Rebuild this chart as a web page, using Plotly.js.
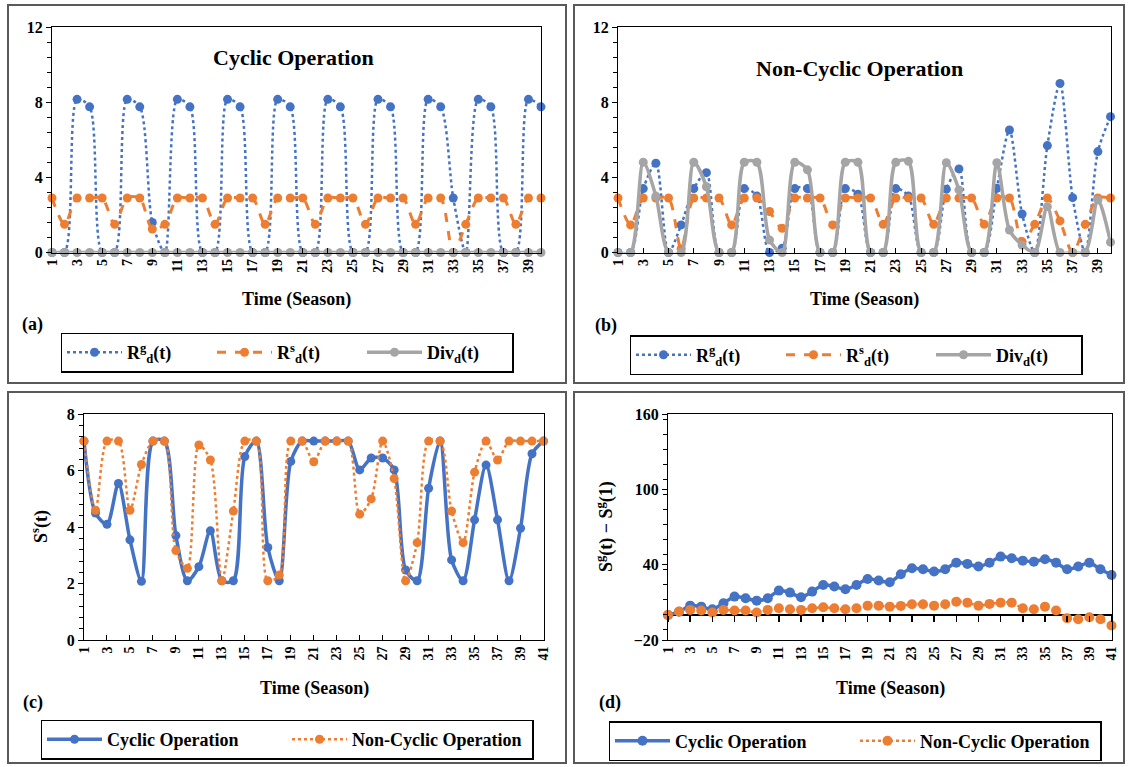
<!DOCTYPE html>
<html><head><meta charset="utf-8">
<script src="https://cdn.plot.ly/plotly-3.0.1.min.js"></script>
<style>html,body{margin:0;padding:0;background:#fff;} #chart{width:1129px;height:767px;}</style>
</head><body><div id="chart"></div>
<script>
// ---------- categories ----------
const seasons40 = [1,2,3,4,5,6,7,8,9,10,11,12,13,14,15,16,17,18,19,20,21,22,23,24,25,26,27,28,29,30,31,32,33,34,35,36,37,38,39,40];
const seasons41 = [1,2,3,4,5,6,7,8,9,10,11,12,13,14,15,16,17,18,19,20,21,22,23,24,25,26,27,28,29,30,31,32,33,34,35,36,37,38,39,40,41];
const ticksAB = [1,3,5,7,9,11,13,15,17,19,21,23,25,27,29,31,33,35,37,39];
const ticksCD = [1,3,5,7,9,11,13,15,17,19,21,23,25,27,29,31,33,35,37,39,41];

// ---------- (a) Cyclic operation ----------
const cycRg  = [0,0,8.15,7.75, 0,0,8.15,7.75, 1.6,0,8.15,7.75, 0,0,8.15,7.75, 0,0,8.15,7.75,
                0,0,8.15,7.75, 0,0,8.15,7.75, 0,0,8.15,7.75, 2.9,0,8.15,7.75, 0,0,8.15,7.75];
const cycRs  = [2.9,1.5,2.9,2.9, 2.9,1.5,2.9,2.9, 1.25,1.5,2.9,2.9, 2.9,1.5,2.9,2.9, 2.9,1.5,2.9,2.9,
                2.9,1.5,2.9,2.9, 2.9,1.5,2.9,2.9, 2.9,1.5,2.9,2.9, 0,1.5,2.9,2.9, 2.9,1.5,2.9,2.9];
const cycDiv = [0,0,0,0,0,0,0,0,0,0,0,0,0,0,0,0,0,0,0,0,0,0,0,0,0,0,0,0,0,0,0,0,0,0,0,0,0,0,0,0];

// ---------- (b) Non-cyclic operation ----------
const ncRg  = [0,0,3.4,4.75, 0,1.47,3.4,4.25, 0,0,3.4,3.0, 0,0.23,3.4,3.4, 0,0,3.4,3.1,
               0,0,3.4,3.0, 0,0,3.37,4.45, 0,0,3.42,6.52, 2.05,0,5.69,9.0, 2.92,0,5.37,7.23];
const ncRs  = [2.9,1.47,2.9,2.9, 2.9,0.2,2.9,2.9, 2.9,1.47,2.9,2.9, 2.18,1.29,2.9,2.9, 2.9,1.47,2.9,2.9,
               2.9,1.5,2.9,2.9, 2.9,1.5,2.9,2.9, 2.9,1.5,2.9,2.9, 0.58,1.5,2.9,1.68, 0,1.5,2.9,2.9];
const ncDiv = [0,0,4.8,3.0, 0,0,4.8,3.5, 0,0,4.8,4.8, 0.67,0,4.8,4.4, 0,0,4.8,4.8,
               0,0,4.8,4.85, 0,0,4.78,3.33, 0,0,4.78,1.2, 0.4,0,2.44,0, 0,0,2.8,0.55];

// ---------- (c) S^s(t) ----------
const ssCyclic    = [7.05,4.5,4.1,5.55,3.55,2.08,7.05,7.05,3.7,2.1,2.6,3.87,2.1,2.1,6.5,7.05,3.28,2.1,6.33,7.05,
                     7.05,7.05,7.05,7.05,6.03,6.45,6.45,6.03,2.48,2.1,5.38,7.05,2.84,2.1,4.26,6.2,4.26,2.1,3.96,6.6,7.05];
const ssNonCyclic = [7.05,4.6,7.05,7.05,4.6,6.22,7.05,7.05,3.17,2.54,6.91,6.38,2.1,4.57,7.05,7.05,2.1,2.3,7.05,7.05,
                     6.32,7.05,7.05,7.05,4.46,5.0,7.05,5.72,2.1,3.45,7.05,7.05,4.57,3.45,5.95,7.05,6.38,7.05,7.05,7.05,7.05];

// ---------- (d) S^g(t) - S^g(1) ----------
const sgCyclic    = [0,2.5,7.4,6.6,4.5,9.3,14.6,13.3,11.4,13.3,19.4,17.8,14.1,18.6,23.9,22.6,20.5,23.9,28.7,27.4,
                     26.1,32.4,37.2,36.4,34.6,36.4,41.7,40.7,38.6,41.7,46.5,45.2,43.3,42.5,44.4,41.7,36.4,38.6,41.7,36.4,31.9];
const sgNonCyclic = [0,2.7,4.0,3.5,1.9,4.0,3.5,3.5,1.9,4.0,5.3,4.5,4.0,5.3,6.1,5.3,4.5,5.3,7.4,7.4,
                     6.6,7.2,8.5,8.5,7.4,8.5,10.6,9.8,7.4,8.8,9.8,9.8,5.3,4.5,6.6,3.5,-2.7,-3.5,-1.9,-3.5,-8.5];

// ---------- styling ----------
const W = 1129, H = 767;
const px = v => v / W;
const py = v => 1 - v / H;
const FONT = 'Liberation Serif';
const BLUE = '#4472C4', ORANGE = '#ED7D31', GRAY = '#A5A5A5';
const SPL = 0.8;

function tr(x, y, xa, ya, name, color, dash, width, legend, msize) {
  return {type:'scatter', mode:'lines+markers', x:x, y:y, xaxis:xa, yaxis:ya, name:name, legend:legend,
          line:{color:color, dash:dash, width:width, shape:'spline', smoothing:SPL},
          marker:{color:color, size:msize || 9}, cliponaxis:false, hoverinfo:'x+y'};
}

const rgName = 'R<sup>g</sup><sub>d</sub>(t)';
const rsName = 'R<sup>s</sup><sub>d</sub>(t)';
const divName = 'Div<sub>d</sub>(t)';

const data = [
  tr(seasons40, cycRg,  'x',  'y',  rgName,  BLUE,   'dot',   2.5, 'legend'),
  tr(seasons40, cycRs,  'x',  'y',  rsName,  ORANGE, 'dash',  3,   'legend'),
  tr(seasons40, cycDiv, 'x',  'y',  divName, GRAY,   'solid', 3.5, 'legend'),
  tr(seasons40, ncRg,   'x2', 'y2', rgName,  BLUE,   'dot',   2.5, 'legend2'),
  tr(seasons40, ncRs,   'x2', 'y2', rsName,  ORANGE, 'dash',  3,   'legend2'),
  tr(seasons40, ncDiv,  'x2', 'y2', divName, GRAY,   'solid', 3.5, 'legend2'),
  tr(seasons41, ssCyclic,    'x3', 'y3', 'Cyclic Operation',     BLUE,   'solid', 3.5, 'legend3'),
  tr(seasons41, ssNonCyclic, 'x3', 'y3', 'Non-Cyclic Operation', ORANGE, 'dot',   2.5, 'legend3'),
  tr(seasons41, sgCyclic,    'x4', 'y4', 'Cyclic Operation',     BLUE,   'solid', 3.5, 'legend4', 10),
  tr(seasons41, sgNonCyclic, 'x4', 'y4', 'Non-Cyclic Operation', ORANGE, 'dot',   2.5, 'legend4', 10),
  {type:'scatter', mode:'markers', x:[], y:[], xaxis:'x5', yaxis:'y4', showlegend:false, hoverinfo:'skip'}
];

const tickFont = {family:FONT, size:14, color:'#000', weight:'bold'};
function xax(domain, range, tv, ticks) {
  return {domain:domain, range:range, tickmode:'array', tickvals:tv, ticktext:tv.map(String),
          tickangle:-90, ticks:ticks, ticklen:5, tickcolor:'#000', showline:true, linecolor:'#000',
          linewidth:1, mirror:true, showgrid:false, zeroline:false, tickfont:tickFont, fixedrange:true};
}
function yax(domain, range, dtick, tick0, minor) {
  return {domain:domain, range:range, dtick:dtick, tick0:tick0, ticks:'outside', ticklen:5, tickcolor:'#000',
          minor:{ticks:'outside', dtick:minor, ticklen:4, tickcolor:'#000', showgrid:false},
          showline:true, linecolor:'#000', linewidth:1, mirror:true, showgrid:false, zeroline:false,
          tickfont:{family:FONT, size:16, color:'#000', weight:'bold'}, fixedrange:true};
}

const yD4 = [py(640), py(414.3)];
const zeroPix = 640 - 20 * (640 - 414.3) / 180;
const legFont = {family:FONT, size:18, color:'#000', weight:'bold'};

const layout = {
  width:W, height:H, margin:{l:0, r:0, t:0, b:0}, paper_bgcolor:'#fff', plot_bgcolor:'#fff',
  font:{family:FONT, color:'#000'},
  xaxis:  xax([px(52), px(541)],    [1, 40], ticksAB, 'inside'),
  yaxis:  Object.assign(yax([py(252.5), py(27)], [0, 12], 4, 0, 0.8), {anchor:'x'}),
  xaxis2: Object.assign(xax([px(618), px(1110.5)], [1, 40], ticksAB, 'inside'), {anchor:'y2'}),
  yaxis2: Object.assign(yax([py(252.5), py(27)], [0, 12], 4, 0, 0.8), {anchor:'x2'}),
  xaxis3: Object.assign(xax([px(84), px(543.5)], [1, 41], ticksCD, 'inside'), {anchor:'y3'}),
  yaxis3: Object.assign(yax([py(640), py(414.3)], [0, 8], 2, 0, 0.4), {anchor:'x3'}),
  xaxis4: Object.assign(xax([px(668), px(1111.5)], [1, 41], ticksCD, ''), {anchor:'y4'}),
  yaxis4: Object.assign(yax(yD4, [-20, 160], 60, -20, 12), {anchor:'x4', zeroline:true, zerolinecolor:'#000', zerolinewidth:1.5}),
  xaxis5: {overlaying:'x4', anchor:'free', position:py(zeroPix), domain:[px(668), px(1111.5)], range:[1, 41],
           tickmode:'array', tickvals:ticksCD, ticks:'outside', ticklen:6, tickwidth:1.5, tickcolor:'#000', side:'bottom',
           showticklabels:false, showline:false, showgrid:false, zeroline:false, fixedrange:true},
  showlegend:true,
  legend:  {x:px(287), xanchor:'center', y:py(352.5), yanchor:'middle', orientation:'h',
            bordercolor:'#000', borderwidth:1.5, bgcolor:'#fff', itemwidth:55, entrywidth:80, font:legFont},
  legend2: {x:px(856), xanchor:'center', y:py(355), yanchor:'middle', orientation:'h',
            bordercolor:'#000', borderwidth:1.5, bgcolor:'#fff', itemwidth:55, entrywidth:80, font:legFont},
  legend3: {x:px(287), xanchor:'center', y:py(739.5), yanchor:'middle', orientation:'h',
            bordercolor:'#000', borderwidth:1.5, bgcolor:'#fff', itemwidth:55, entrywidth:175, font:legFont},
  legend4: {x:px(855), xanchor:'center', y:py(741), yanchor:'middle', orientation:'h',
            bordercolor:'#000', borderwidth:1.5, bgcolor:'#fff', itemwidth:55, entrywidth:175, font:legFont},
  shapes: [
    {type:'rect', xref:'paper', yref:'paper', x0:px(8),   x1:px(566),  y0:py(383), y1:py(5),   line:{color:'#595959', width:2}},
    {type:'rect', xref:'paper', yref:'paper', x0:px(574), x1:px(1124), y0:py(383), y1:py(5),   line:{color:'#595959', width:2}},
    {type:'rect', xref:'paper', yref:'paper', x0:px(8),   x1:px(566),  y0:py(763), y1:py(392), line:{color:'#595959', width:2}},
    {type:'rect', xref:'paper', yref:'paper', x0:px(574), x1:px(1124), y0:py(763), y1:py(392), line:{color:'#595959', width:2}}
  ],
  annotations: []
};

function ann(text, x, y, size, extra) {
  return Object.assign({text:text, xref:'paper', yref:'paper', x:px(x), y:py(y), xanchor:'center', yanchor:'middle',
          showarrow:false, font:{family:FONT, size:size, color:'#000', weight:'bold'}}, extra || {});
}
layout.annotations.push(
  ann('Cyclic Operation', 293, 57, 22),
  ann('Non-Cyclic Operation', 859, 68, 22),
  ann('Time (Season)', 296, 299, 18),
  ann('Time (Season)', 864, 299, 18),
  ann('Time (Season)', 314, 688, 18),
  ann('Time (Season)', 890, 688, 18),
  ann('(a)', 32, 324, 18),
  ann('(b)', 606, 325, 18),
  ann('(c)', 33, 702, 18),
  ann('(d)', 610, 702, 18),
  ann('S<sup>s</sup>(t)', 40, 527, 18, {textangle:-90}),
  ann('S<sup>g</sup>(t) − S<sup>g</sup>(1)', 605, 527, 18, {textangle:-90})
);

Plotly.newPlot('chart', data, layout, {displayModeBar:false, staticPlot:true});
</script>
</body></html>
